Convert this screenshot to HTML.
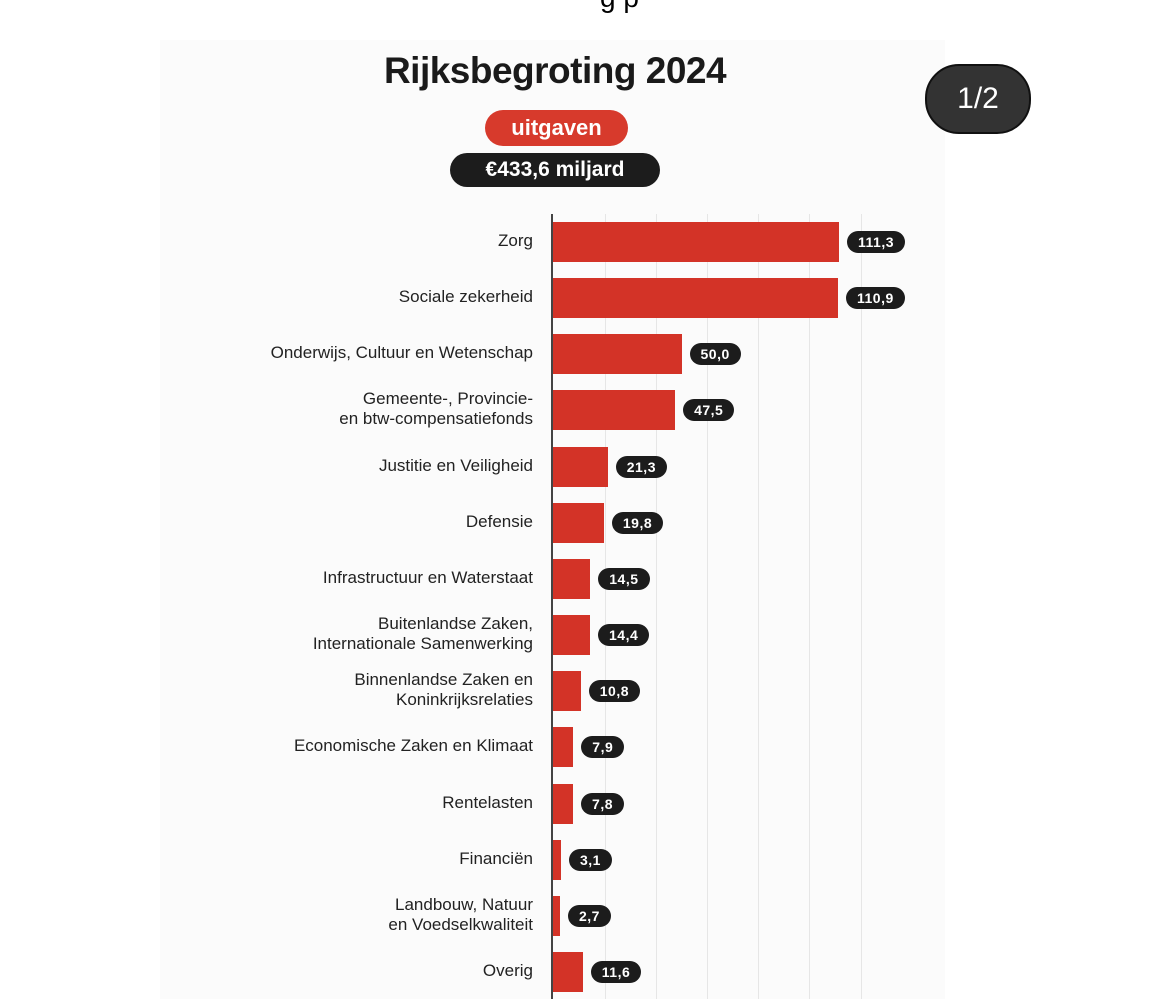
<!DOCTYPE html>
<html><head><meta charset="utf-8"><style>
body{margin:0;width:1170px;height:999px;background:#fff;position:relative;overflow:hidden;font-family:"Liberation Sans",sans-serif}
.panel{position:absolute;left:160px;top:40px;width:785px;height:959px;background:#fbfbfb}
.abs{position:absolute}
.title{left:300px;width:510px;top:50px;text-align:center;font-weight:bold;font-size:37px;color:#1a1a1a;letter-spacing:-0.5px}
.pill{position:absolute;border-radius:18px;color:#fff;font-weight:bold;text-align:center}
.grid{position:absolute;top:214px;height:785px;width:1px;background:#e6e6e6}
.bar{position:absolute;left:553px;height:40px;background:#d33327}
.lab{position:absolute;right:637px;text-align:right;font-size:17px;color:#222;line-height:20px}
.val{position:absolute;height:22px;line-height:22px;border-radius:11px;background:#1c1c1c;color:#fff;font-weight:bold;font-size:14px;padding:0 11px;letter-spacing:0.5px}
</style></head><body>
<div class="abs" style="left:600px;top:-18px;font-size:28px;color:#000">g p</div>
<div class="panel"></div>
<div class="abs title">Rijksbegroting 2024</div>
<div class="pill" style="left:485px;top:110px;width:143px;height:36px;line-height:36px;background:#d73a2c;font-size:22px">uitgaven</div>
<div class="pill" style="left:450px;top:153px;width:210px;height:34px;line-height:34px;background:#1c1c1c;font-size:21px">€433,6 miljard</div>
<div class="pill" style="left:925px;top:64px;width:102px;height:66px;line-height:66px;background:#333;border:2px solid #111;border-radius:34px;font-weight:normal;font-size:30px">1/2</div>
<div class="grid" style="left:605px"></div><div class="grid" style="left:656px"></div><div class="grid" style="left:707px"></div><div class="grid" style="left:758px"></div><div class="grid" style="left:809px"></div><div class="grid" style="left:861px"></div>
<div class="abs" style="left:551px;top:214px;width:2px;height:785px;background:#444"></div>
<div id="rows"></div>
<script>
var d=[["Zorg",111.3],["Sociale zekerheid",110.9],["Onderwijs, Cultuur en Wetenschap",50.0],["Gemeente-, Provincie-<br>en btw-compensatiefonds",47.5],["Justitie en Veiligheid",21.3],["Defensie",19.8],["Infrastructuur en Waterstaat",14.5],["Buitenlandse Zaken,<br>Internationale Samenwerking",14.4],["Binnenlandse Zaken en<br>Koninkrijksrelaties",10.8],["Economische Zaken en Klimaat",7.9],["Rentelasten",7.8],["Financiën",3.1],["Landbouw, Natuur<br>en Voedselkwaliteit",2.7],["Overig",11.6]];
var h="";d.forEach(function(r,i){var c=242+i*56.15,w=r[1]*2.57,two=r[0].indexOf("<br>")>0;
h+='<div class="bar" style="top:'+(c-20)+'px;width:'+w+'px"></div>';
h+='<div class="lab" style="top:'+(c-(two?21:11))+'px">'+r[0]+'</div>';
h+='<div class="val" style="left:'+(553+w+8)+'px;top:'+(c-11)+'px">'+r[1].toFixed(1).replace(".",",")+'</div>';});
document.getElementById("rows").innerHTML=h;
</script>
</body></html>
